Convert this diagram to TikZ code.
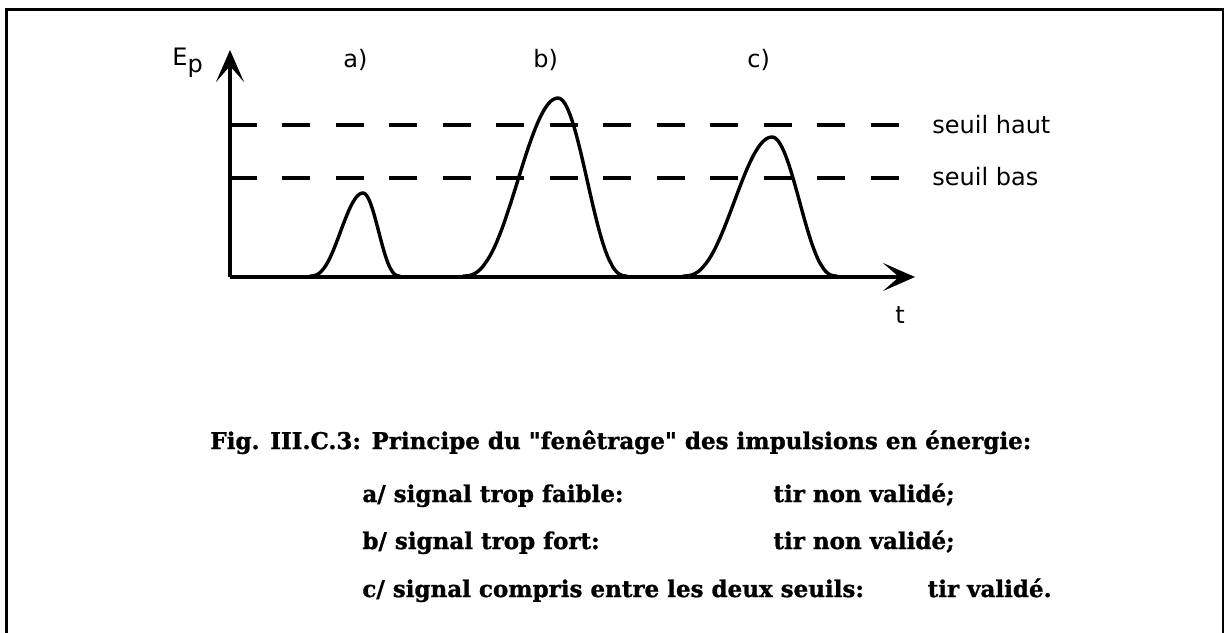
\documentclass[tikz,border=0pt]{standalone}
\usepackage{fontspec}
\setmainfont{DejaVu Sans}
\newfontfamily\capfont{DejaVu Serif}[BoldFeatures={FakeBold=1.2}]
\usetikzlibrary{arrows.meta}
\newcommand\pulseplot[4]{%
  \draw[pulse] plot[domain=-#3:0,samples=40] ({#1+\x},{276-#2*((1.0001+cos(180*\x/#3))/2)^1.3})
     -- plot[domain=0:#4,samples=40] ({#1+\x},{276-#2*((1.0001+cos(180*\x/#4))/2)^1.3});}
\begin{document}
\begin{tikzpicture}[x=0.5pt,y=-0.5pt,
  lbl/.style={font=\fontsize{12}{14}\selectfont, inner sep=0pt, anchor=base west},
  captxt/.style={font=\capfont\bfseries\fontsize{11.5}{14}\selectfont, inner sep=0pt, anchor=base west},
  thr/.style={line width=1.7pt, dash pattern=on 14pt off 12.75pt},
  axis/.style={line width=1.7pt, -{Stealth[length=16pt,width=14pt,inset=8pt]}},
  pulse/.style={line width=1.7pt, line join=round, line cap=round},
  frame/.style={line width=1.3pt}]
\path[use as bounding box] (0,0) rectangle (1225,632);
\draw[frame] (6.5,640) -- (6.5,9.5) -- (1223,9.5) -- (1223,640);
% thresholds
\coordinate (h0) at (228.5,125); \coordinate (h1) at (898.5,125);
\coordinate (b0) at (228.5,178); \coordinate (b1) at (898.5,178);
\draw[thr] (h0) -- (h1);
\draw[thr] (b0) -- (b1);
% axes
\coordinate (O) at (230,277);
\coordinate (ytip) at (230,50);
\coordinate (xtip) at (915,277);
\draw[axis] (O) -- (ytip);
\draw[axis] (O) -- (xtip);
% pulses
\pulseplot{363}{83}{53}{37}
\pulseplot{558}{178}{95}{69}
\pulseplot{772}{139}{89}{65}
% labels
\node[lbl] (ep) at (172,65) {E\raisebox{-3.5pt}{p}};
\node[lbl] (la) at (343,67) {a)};
\node[lbl] (lb) at (533,67) {b)};
\node[lbl] (lc) at (747,67) {c)};
\node[lbl] (sh) at (932,133) {seuil haut};
\node[lbl] (sb) at (932,185) {seuil bas};
\node[lbl] (t) at (895,323) {t};
% caption
\node[captxt] (l1) at (210,449) {Fig. III.C.3: Principe du "fenêtrage" des impulsions en énergie:};
\node[captxt] (l2) at (362,502) {a/ signal trop faible:};
\node[captxt] (r2) at (773,502) {tir non validé;};
\node[captxt] (l3) at (362,549) {b/ signal trop fort:};
\node[captxt] (r3) at (773,549) {tir non validé;};
\node[captxt] (l4) at (362,597) {c/ signal compris entre les deux seuils:};
\node[captxt, anchor=base east] (r4) at (1052,597) {tir validé.};
\end{tikzpicture}
\end{document}
